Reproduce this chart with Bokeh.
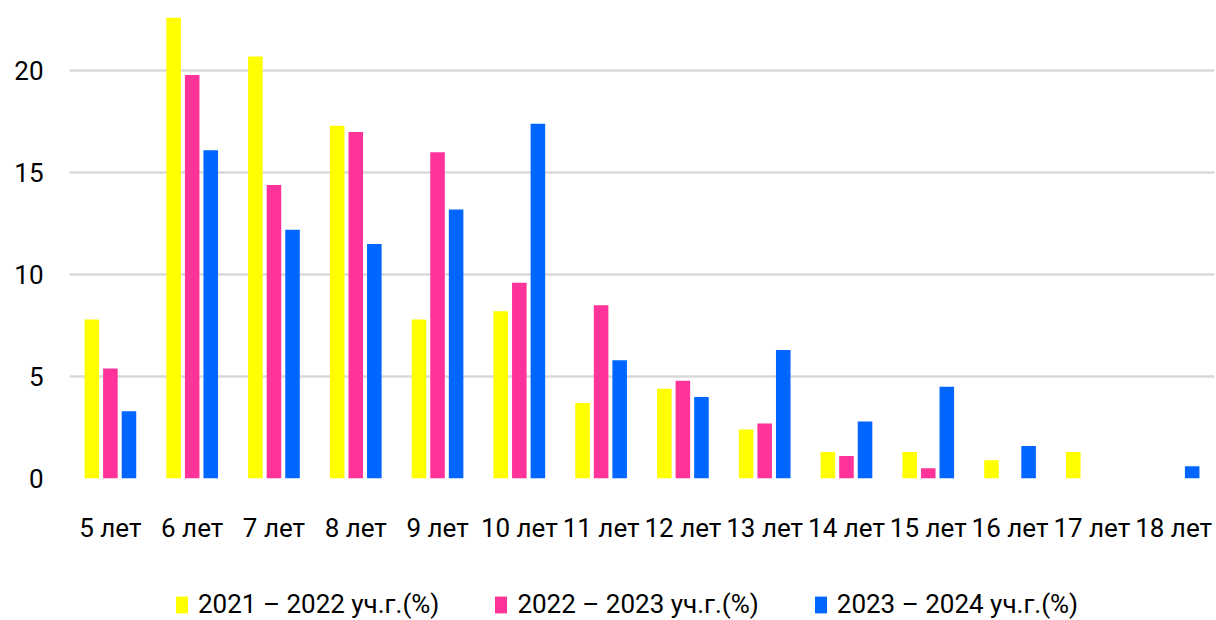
from bokeh.plotting import figure
from bokeh.layouts import column
from bokeh.models import FactorRange, Range1d, FixedTicker, Legend, LegendItem, ColumnDataSource
from bokeh.transform import dodge
from bokeh.embed import file_html
from bokeh.resources import INLINE

categories = ["5 лет", "6 лет", "7 лет", "8 лет", "9 лет", "10 лет", "11 лет",
              "12 лет", "13 лет", "14 лет", "15 лет", "16 лет", "17 лет", "18 лет"]
series_names = ["2021 – 2022 уч.г.(%)", "2022 – 2023 уч.г.(%)", "2023 – 2024 уч.г.(%)"]
y2021 = [7.8, 22.6, 20.7, 17.3, 7.8, 8.2, 3.7, 4.4, 2.4, 1.3, 1.3, 0.9, 1.3, 0.0]
y2022 = [5.4, 19.8, 14.4, 17.0, 16.0, 9.6, 8.5, 4.8, 2.7, 1.1, 0.5, 0.0, 0.0, 0.0]
y2023 = [3.3, 16.1, 12.2, 11.5, 13.2, 17.4, 5.8, 4.0, 6.3, 2.8, 4.5, 1.6, 0.0, 0.6]
y_ticks = [0, 5, 10, 15, 20]
colors = ["#FFFF00", "#FF3399", "#0066FF"]

FONT = "Roboto"
FS = "26px"

src = ColumnDataSource(dict(cat=categories, a=y2021, b=y2022, c=y2023))

p = figure(x_range=FactorRange(*categories), y_range=Range1d(0, 23.45),
           width=1216, height=560, output_backend="svg", toolbar_location=None,
           min_border_left=69, min_border_right=2, min_border_top=0, min_border_bottom=82)

step = 0.227
bw = 0.178
renderers = []
for key, off, col in zip(["a", "b", "c"], [-step, 0, step], colors):
    r = p.vbar(x=dodge("cat", off, range=p.x_range), top=key, width=bw, source=src,
               fill_color=col, line_color=None)
    renderers.append(r)

p.outline_line_color = None
p.background_fill_color = "white"
p.border_fill_color = "white"

p.xgrid.grid_line_color = None
p.ygrid.grid_line_color = "#d9d9d9"
p.ygrid.grid_line_width = 2.5
p.yaxis.ticker = FixedTicker(ticks=y_ticks)

for ax in (p.xaxis[0], p.yaxis[0]):
    ax.axis_line_color = None
    ax.major_tick_line_color = None
    ax.minor_tick_line_color = None
    ax.major_tick_out = 0
    ax.major_tick_in = 0
    ax.major_label_text_font = FONT
    ax.major_label_text_font_size = FS
    ax.major_label_text_color = "#000000"

p.yaxis.major_label_standoff = 26
p.xaxis.major_label_standoff = 34

# legend strip below the chart (swatch renderers carry no drawable data)
pl = figure(width=1216, height=60, x_range=Range1d(0, 1), y_range=Range1d(0, 1),
            output_backend="svg", toolbar_location=None,
            min_border_left=0, min_border_right=0, min_border_top=0, min_border_bottom=0)
pl.axis.visible = False
pl.grid.visible = False
pl.outline_line_color = None
pl.border_fill_color = "white"
pl.background_fill_color = "white"
nan = float("nan")
leg_renderers = [pl.vbar(x=[nan], bottom=[nan], top=[nan], width=0.01, fill_color=c, line_color=None)
                 for c in colors]

legend = Legend(items=[LegendItem(label=n, renderers=[r]) for n, r in zip(series_names, leg_renderers)],
                orientation="horizontal", location=(105, 1),
                label_text_font=FONT, label_text_font_size=FS, label_text_color="#000000",
                glyph_width=15, glyph_height=21, label_standoff=9, spacing=54,
                padding=0, margin=0, border_line_color=None, background_fill_alpha=0)
pl.add_layout(legend, "center")

open("out.html", "w").write(file_html(column(p, pl), INLINE))
